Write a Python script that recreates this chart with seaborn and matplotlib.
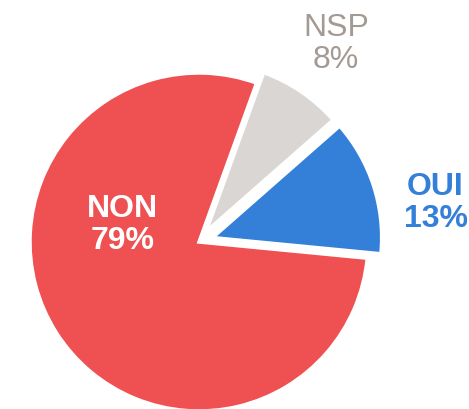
import matplotlib
matplotlib.use("Agg")
import matplotlib.pyplot as plt
import seaborn as sns

sns.set_theme(style="white")
plt.rcParams['font.family'] = ['Liberation Sans', 'DejaVu Sans']

labels = ['OUI', 'NSP', 'NON']
values = [13, 8, 79]
colors = ['#3480D9', '#DAD6D4', '#EF5052']
text_colors = ['#3480D9', '#A39A94', 'white']
weights = ['bold', 'normal', 'bold']
explode = [0.085, 0.075, 0.0]

fig = plt.figure(figsize=(4.69, 4.10), dpi=100)
ax = fig.add_axes([0, 0, 1, 1])
wedges, _ = ax.pie(values, colors=colors, explode=explode, startangle=-5.5,
                   counterclock=True, radius=1.0,
                   wedgeprops=dict(edgecolor='white', linewidth=2.5))
for w in wedges:
    w.set_clip_on(False)

# label placement (data units, pie radius = 1)
label_pos = [(1.40, 0.235), (0.812, 1.176), (-0.453, 0.106)]
for lab, v, (x, y), c, fw in zip(labels, values, label_pos, text_colors, weights):
    ax.text(x, y, f'{lab}\n{v}%', ha='center', va='center', fontsize=23,
            color=c, fontweight=fw, linespacing=1.1)

ax.set_xlim(-199 / 169, 270 / 169)
ax.set_ylim(-167 / 169, 243 / 169)
ax.set_aspect('equal')
ax.axis('off')

plt.savefig('out.png', dpi=100)
